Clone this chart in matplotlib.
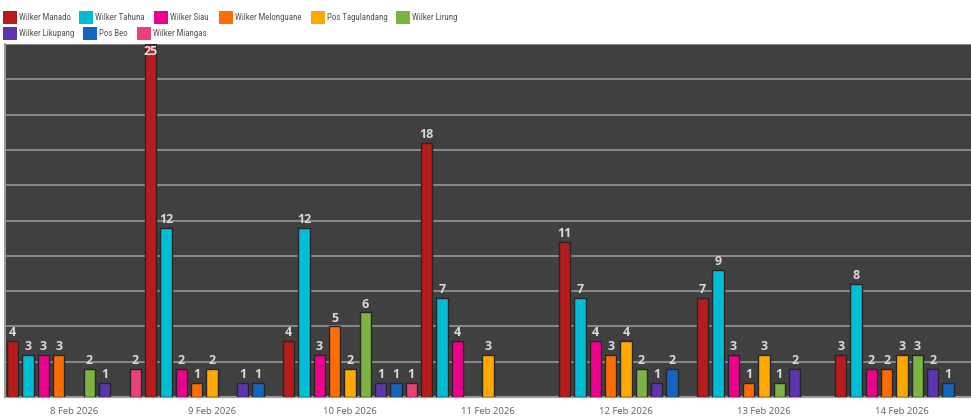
import numpy as np
import matplotlib.pyplot as plt
from matplotlib import font_manager
from matplotlib.patches import Rectangle

dates = ['8 Feb 2026', '9 Feb 2026', '10 Feb 2026', '11 Feb 2026',
         '12 Feb 2026', '13 Feb 2026', '14 Feb 2026']
series = ['Wilker Manado', 'Wilker Tahuna', 'Wilker Siau', 'Wilker Melonguane',
          'Pos Tagulandang', 'Wilker Lirung', 'Wilker Likupang', 'Pos Beo',
          'Wilker Miangas']
colors = ['#B71C1C', '#00BCD4', '#EC008C', '#FF6D00', '#FFA800',
          '#7CB342', '#5E35B1', '#1565C0', '#EC407A']

manado = [4, 25, 4, 18, 11, 7, 3]
tahuna = [3, 12, 12, 7, 7, 9, 8]
siau = [3, 2, 3, 4, 4, 3, 2]
melonguane = [3, 1, 5, 0, 3, 1, 2]
tagulandang = [0, 2, 2, 3, 4, 3, 3]
lirung = [2, 0, 6, 0, 2, 1, 3]
likupang = [1, 1, 1, 0, 1, 2, 2]
beo = [0, 1, 1, 0, 2, 0, 1]
miangas = [2, 0, 1, 0, 0, 0, 0]
values = [manado, tahuna, siau, melonguane, tagulandang, lirung,
          likupang, beo, miangas]

plt.rcParams['font.family'] = ['Open Sans', 'DejaVu Sans']

# narrow face for the legend if one is around
installed = {f.name for f in font_manager.fontManager.ttflist}
leg_font, leg_size = 'Open Sans', 5.6
for cand, size in [('Roboto Condensed', 6.4), ('Liberation Sans Narrow', 6.4),
                   ('DejaVu Sans Condensed', 6.0)]:
    if cand in installed:
        leg_font, leg_size = cand, size
        break

W, H = 971, 418
YMAX = 25
fig = plt.figure(figsize=(W / 100, H / 100), dpi=100)
fig.patch.set_facecolor('white')
ax = fig.add_axes([5 / W, (H - 397) / H, 966 / W, 353 / H])
ax.set_facecolor('#404040')

x = np.arange(len(dates))
slot = 1 / len(series)
width = slot * 0.74
for i, (vals, col) in enumerate(zip(values, colors)):
    pos = x - 0.5 + slot * (i + 0.5)
    v = np.array(vals, dtype=float)
    mask = v > 0
    ax.bar(pos[mask], v[mask], width=width, color=col, edgecolor='#262626',
           linewidth=1.0, zorder=3)
    for p, val in zip(pos[mask], v[mask]):
        if val + 0.9 > YMAX:
            # no room above: label sits on the top of the bar
            ax.text(p, YMAX - 0.05, '%d' % val, ha='center', va='top',
                    fontsize=9, fontweight='bold', color='#e6e6e6', zorder=4)
        else:
            ax.text(p, val + 0.12, '%d' % val, ha='center', va='bottom',
                    fontsize=9, fontweight='bold', color='#d9d9d9', zorder=4)

ax.set_xlim(-0.5, len(dates) - 0.5)
ax.set_ylim(0, YMAX)
ax.set_yticks(np.arange(0, YMAX + 0.1, 2.5))
ax.yaxis.grid(True, color='#8a8a8a', linewidth=1.4, zorder=1)
ax.set_axisbelow(True)
ax.tick_params(axis='y', left=False, labelleft=False)
ax.tick_params(axis='x', bottom=False, labelsize=6.8, labelcolor='#606060', pad=4)
ax.set_xticks(x)
ax.set_xticklabels(dates)
for s in ['top', 'right']:
    ax.spines[s].set_visible(False)
for s in ['left', 'bottom']:
    ax.spines[s].set_color('#9a9a9a')
    ax.spines[s].set_linewidth(1.5)

# legend, laid out as a flowing two-row strip
leg_x = [3, 79, 154, 219, 311, 396, 3, 83, 137]
leg_y = [17, 17, 17, 17, 17, 17, 33.5, 33.5, 33.5]
for name, col, lx, ly in zip(series, colors, leg_x, leg_y):
    fig.patches.append(Rectangle((lx / W, (H - ly - 6.5) / H), 13.5 / W, 13 / H,
                                 transform=fig.transFigure, facecolor=col,
                                 edgecolor='none'))
    fig.text((lx + 16) / W, (H - ly) / H, name, ha='left', va='center',
             fontsize=leg_size, color='#555555', family=leg_font)

fig.savefig('out.png', dpi=100)
